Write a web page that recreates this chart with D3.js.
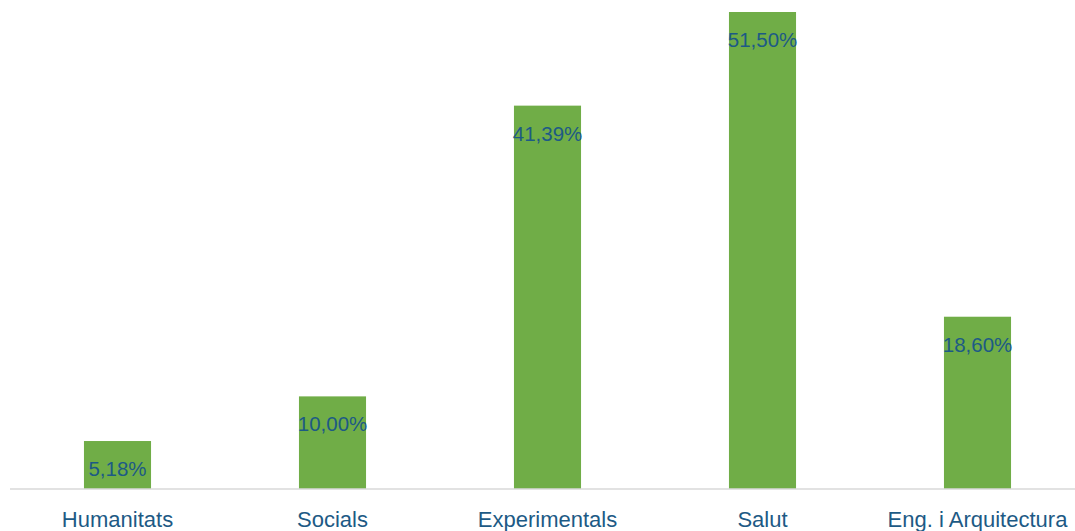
<!DOCTYPE html>
<html><head><meta charset="utf-8">
<script src="https://cdn.jsdelivr.net/npm/d3@7"></script>
<style>html,body{margin:0;padding:0;background:#fff;overflow:hidden}</style>
</head><body>
<svg id="chart" width="1075" height="531"></svg>
<script>
const categories = ["Humanitats", "Socials", "Experimentals", "Salut", "Eng. i Arquitectura"];
const values = [5.18, 10.00, 41.39, 51.50, 18.60];
const valueLabels = ["5,18%", "10,00%", "41,39%", "51,50%", "18,60%"];

const svg = d3.select("#chart");
const baseY = 489;
const x = d3.scaleBand().domain(categories).range([10, 1085]).paddingInner(0.688).paddingOuter(0.344);
const y = d3.scaleLinear().domain([0, 51.5]).range([baseY, 12]);
const textColor = "#1D5A85";
const font = "'Liberation Sans', Arial, sans-serif";

svg.selectAll("rect.bar").data(values).join("rect")
  .attr("class", "bar")
  .attr("x", (d, i) => x(categories[i]))
  .attr("width", x.bandwidth())
  .attr("y", d => y(d))
  .attr("height", d => baseY - y(d))
  .attr("fill", "#70AD47");

const axis = d3.axisBottom(x).tickSize(0).tickPadding(0);
const g = svg.append("g").attr("transform", `translate(0,${baseY})`).call(axis);
g.select(".domain").attr("stroke", "#D9D9D9").attr("stroke-width", 1.5).attr("d", "M10,0H1085");
g.selectAll(".tick text")
  .attr("y", 38).attr("dy", 0)
  .attr("fill", textColor)
  .style("font-family", font).style("font-size", "22px");

svg.selectAll("text.val").data(values).join("text")
  .attr("class", "val")
  .attr("x", (d, i) => x(categories[i]) + x.bandwidth() / 2)
  .attr("y", d => y(d) + 35)
  .attr("text-anchor", "middle")
  .attr("fill", textColor)
  .style("font-family", font).style("font-size", "20.5px")
  .text((d, i) => valueLabels[i]);
</script>
</body></html>
